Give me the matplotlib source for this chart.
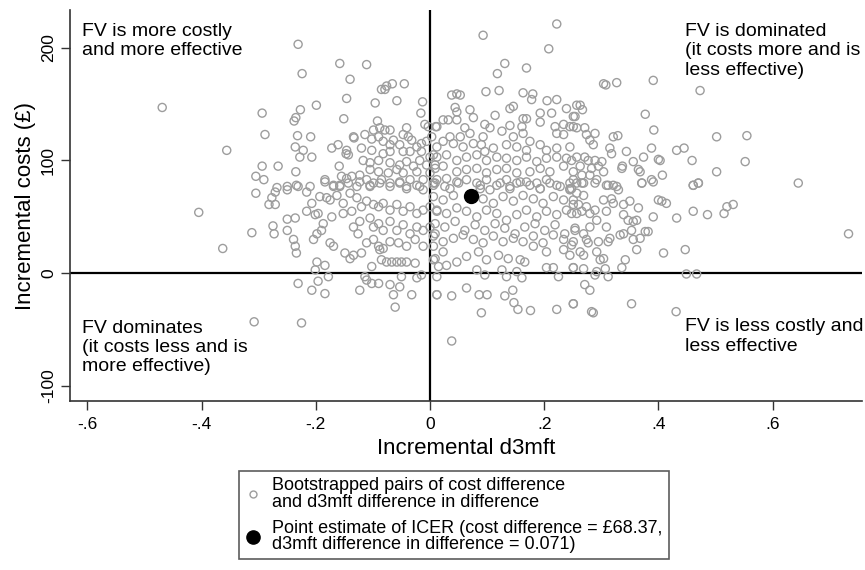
import matplotlib
matplotlib.use("Agg")
import matplotlib.pyplot as plt
from matplotlib.lines import Line2D
import numpy as np

plt.rcParams['font.family'] = ['Liberation Sans', 'DejaVu Sans']

# ---------------- data ----------------
# bootstrapped pairs (incremental d3mft, incremental cost in GBP)
boot_far_left = [
    (-0.469, 147), (-0.356, 109), (-0.405, 54), (-0.363, 22), (-0.294, 142), (-0.289, 123),
    (-0.294, 95), (-0.266, 95), (-0.305, 86), (-0.291, 83), (-0.305, 71), (-0.268, 76),
    (-0.271, 72), (-0.250, 77), (-0.250, 74), (-0.277, 67), (-0.282, 61), (-0.271, 61),
    (-0.250, 48), (-0.250, 38), (-0.275, 42), (-0.273, 35), (-0.312, 36), (-0.308, -43),
]
boot_left_upper = [
    (-0.231, 203), (-0.224, 177), (-0.158, 186), (-0.111, 185), (-0.140, 172), (-0.146, 155),
    (-0.199, 149), (-0.227, 145), (-0.151, 137), (-0.235, 138), (-0.238, 135), (-0.085, 163),
    (-0.076, 166), (-0.079, 163), (-0.066, 168), (-0.045, 168), (-0.058, 153), (-0.096, 151),
    (-0.013, 152), (-0.016, 142), (-0.092, 135), (-0.099, 127), (-0.088, 129), (-0.079, 127),
    (-0.070, 127), (-0.041, 129), (-0.047, 123), (-0.009, 132), (-0.003, 130), (0.010, 130),
    (-0.232, 122), (-0.209, 121), (-0.134, 121), (-0.133, 120), (-0.114, 123), (-0.102, 119),
    (-0.090, 121), (-0.082, 117), (-0.070, 114), (-0.064, 118), (-0.053, 114), (-0.038, 121),
    (-0.032, 118), (-0.023, 112), (-0.015, 115), (-0.006, 117), (0.003, 121), (-0.236, 112),
    (-0.222, 109), (-0.172, 111), (-0.161, 114), (-0.146, 109), (-0.143, 105), (-0.147, 106),
    (-0.120, 111), (-0.102, 109), (-0.082, 106), (-0.070, 108), (-0.047, 108), (-0.035, 108),
    (-0.015, 108), (0.006, 105), (-0.228, 103), (-0.207, 103), (-0.117, 100), (-0.105, 98),
    (-0.090, 100), (-0.070, 98), (-0.053, 96), (-0.041, 99), (-0.029, 95), (-0.018, 100),
    (-0.006, 96), (0.009, 96), (-0.159, 95), (-0.235, 90), (-0.105, 92), (-0.090, 90),
    (-0.073, 89), (-0.058, 92), (-0.047, 89), (-0.023, 90), (0.000, 89), (-0.184, 83),
    (-0.169, 78), (-0.155, 86), (-0.146, 84), (-0.137, 86), (-0.123, 87), (-0.111, 83),
    (-0.099, 80), (-0.085, 83), (-0.070, 80), (-0.053, 81), (-0.035, 83), (-0.012, 83),
    (0.006, 80), (-0.231, 77), (-0.210, 77), (-0.158, 77), (-0.128, 77), (-0.105, 77),
    (-0.041, 77), (-0.018, 77),
]
boot_left_lower = [
    (-0.234, 78), (-0.216, 72), (-0.184, 81), (-0.169, 77), (-0.158, 78), (-0.143, 80),
    (-0.123, 81), (-0.105, 78), (-0.088, 80), (-0.070, 77), (-0.053, 80), (-0.041, 75),
    (-0.023, 78), (-0.012, 74), (0.006, 78), (-0.236, 49), (-0.216, 55), (-0.207, 62),
    (-0.193, 68), (-0.181, 67), (-0.175, 65), (-0.163, 69), (-0.152, 62), (-0.140, 71),
    (-0.128, 67), (-0.120, 59), (-0.111, 64), (-0.099, 61), (-0.090, 59), (-0.082, 62),
    (-0.070, 56), (-0.058, 61), (-0.047, 55), (-0.035, 59), (-0.023, 53), (-0.012, 56),
    (0.000, 59), (0.012, 55), (-0.201, 52), (-0.196, 53), (-0.187, 44), (-0.190, 38),
    (-0.198, 35), (-0.204, 30), (-0.172, 50), (-0.152, 53), (-0.137, 55), (-0.134, 41),
    (-0.123, 46), (-0.126, 35), (-0.105, 49), (-0.099, 41), (-0.090, 44), (-0.082, 38),
    (-0.070, 46), (-0.058, 38), (-0.047, 43), (-0.035, 35), (-0.023, 41), (-0.012, 38),
    (0.000, 41), (0.009, 35), (-0.239, 30), (-0.236, 24), (-0.234, 18), (-0.175, 27),
    (-0.169, 24), (-0.149, 18), (-0.140, 13), (-0.134, 16), (-0.120, 18), (-0.111, 27),
    (-0.099, 30), (-0.090, 24), (-0.088, 21), (-0.082, 22), (-0.070, 28), (-0.055, 27),
    (-0.041, 24), (-0.026, 30), (-0.012, 24), (0.006, 24), (-0.198, 10), (-0.201, 3),
    (-0.184, 7), (-0.085, 12), (-0.076, 10), (-0.067, 10), (-0.058, 10), (-0.050, 10),
    (-0.041, 10), (-0.026, 9), (-0.102, 6), (0.006, 12), (-0.178, -3), (-0.196, -7),
    (-0.231, -9), (-0.207, -15), (-0.184, -18), (-0.123, -15), (-0.114, -3), (-0.111, -6),
    (-0.102, -9), (-0.090, -9), (-0.070, -10), (-0.053, -12), (-0.064, -19), (-0.061, -30),
    (-0.032, -19), (-0.050, -3), (-0.023, -4), (-0.015, -1.5), (0.012, -19), (0.012, -3),
    (-0.225, -44),
]
boot_mid_upper = [
    (0.222, 221), (0.093, 211), (0.208, 199), (0.131, 186), (0.169, 182), (0.118, 177),
    (0.098, 161), (0.121, 162), (0.163, 160), (0.180, 159), (0.038, 158), (0.047, 159),
    (0.053, 158), (0.205, 153), (0.222, 154), (0.178, 154), (0.239, 146), (0.257, 149),
    (0.044, 147), (0.047, 143), (0.070, 145), (0.140, 146), (0.146, 148), (0.163, 137),
    (0.169, 137), (0.193, 142), (0.213, 142), (0.251, 139), (0.023, 136), (0.012, 130),
    (0.032, 136), (0.047, 136), (0.076, 138), (0.096, 132), (0.105, 129), (0.140, 131),
    (0.161, 130), (0.193, 134), (0.219, 130), (0.234, 132), (0.245, 130), (0.257, 129),
    (0.114, 140), (0.035, 121), (0.053, 121), (0.061, 129), (0.070, 124), (0.093, 121),
    (0.126, 126), (0.146, 121), (0.163, 124), (0.175, 117), (0.222, 124), (0.234, 123),
    (0.012, 112), (0.023, 117), (0.041, 115), (0.058, 112), (0.076, 115), (0.090, 114),
    (0.096, 108), (0.111, 111), (0.134, 114), (0.152, 112), (0.169, 109), (0.193, 114),
    (0.204, 109), (0.222, 111), (0.245, 112), (0.000, 103), (0.012, 103), (0.029, 105),
    (0.047, 100), (0.064, 103), (0.082, 105), (0.099, 100), (0.117, 103), (0.134, 102),
    (0.152, 100), (0.169, 103), (0.187, 99), (0.204, 102), (0.222, 103), (0.239, 102),
    (0.257, 103), (0.009, 93), (0.023, 95), (0.047, 90), (0.064, 92), (0.082, 93),
    (0.099, 89), (0.117, 92), (0.134, 93), (0.152, 89), (0.175, 90), (0.193, 93),
    (0.210, 90), (0.234, 95), (0.251, 90), (0.012, 83), (0.029, 84), (0.050, 80),
    (0.064, 83), (0.082, 80), (0.099, 83), (0.117, 78), (0.134, 83), (0.152, 80),
    (0.169, 81), (0.187, 80), (0.204, 83), (0.222, 78), (0.245, 80), (0.035, 75),
    (0.088, 75), (0.140, 75), (0.193, 75), (0.245, 75),
]
boot_mid_lower = [
    (0.009, 80), (0.026, 77), (0.047, 81), (0.088, 78), (0.105, 74), (0.123, 80),
    (0.140, 77), (0.158, 81), (0.175, 78), (0.193, 75), (0.210, 80), (0.228, 77),
    (0.245, 74), (0.257, 80), (0.006, 68), (0.023, 65), (0.041, 69), (0.093, 66),
    (0.111, 62), (0.128, 68), (0.146, 64), (0.163, 69), (0.181, 66), (0.198, 62),
    (0.216, 68), (0.234, 65), (0.251, 61), (0.012, 56), (0.029, 53), (0.047, 58),
    (0.064, 55), (0.082, 50), (0.099, 56), (0.117, 53), (0.134, 47), (0.152, 52),
    (0.169, 56), (0.187, 50), (0.204, 55), (0.222, 52), (0.239, 56), (0.257, 53),
    (0.009, 44), (0.026, 41), (0.044, 46), (0.061, 38), (0.079, 43), (0.096, 38),
    (0.114, 44), (0.131, 40), (0.149, 35), (0.166, 41), (0.184, 44), (0.201, 38),
    (0.219, 43), (0.236, 35), (0.254, 40), (0.006, 33), (0.023, 28), (0.041, 31),
    (0.058, 34), (0.076, 30), (0.093, 27), (0.111, 33), (0.128, 28), (0.146, 31),
    (0.163, 28), (0.181, 33), (0.198, 27), (0.216, 34), (0.234, 30), (0.251, 28),
    (0.009, 13), (0.023, 19), (0.047, 10), (0.064, 15), (0.085, 19), (0.099, 12),
    (0.120, 16), (0.137, 13), (0.158, 12), (0.166, 10), (0.181, 24), (0.204, 19),
    (0.234, 21), (0.245, 16), (0.015, 6), (0.029, 7), (0.082, 3), (0.096, -1.5),
    (0.126, 3), (0.134, -3), (0.152, 1.5), (0.161, -4), (0.204, 5), (0.216, 5),
    (0.225, -3), (0.251, 5), (0.012, -19), (0.038, -20), (0.064, -13), (0.086, -19),
    (0.100, -19), (0.131, -20), (0.145, -15), (0.147, -26), (0.154, -32), (0.176, -33),
    (0.090, -35), (0.222, -32), (0.251, -27), (0.038, -60),
]
boot_right_upper = [
    (0.304, 168), (0.308, 167), (0.327, 169), (0.391, 171), (0.473, 162), (0.377, 141),
    (0.392, 127), (0.502, 121), (0.321, 121), (0.329, 122), (0.388, 111), (0.344, 108),
    (0.432, 109), (0.445, 111), (0.459, 100), (0.403, 100), (0.400, 101), (0.356, 99),
    (0.374, 103), (0.336, 93), (0.337, 95), (0.368, 90), (0.365, 92), (0.407, 87),
    (0.388, 83), (0.371, 80), (0.502, 90), (0.461, 78), (0.470, 80), (0.263, 149),
    (0.267, 145), (0.254, 139), (0.251, 130), (0.271, 129), (0.289, 124), (0.274, 123),
    (0.280, 118), (0.286, 114), (0.315, 111), (0.318, 106), (0.271, 103), (0.277, 100),
    (0.289, 100), (0.301, 99), (0.263, 95), (0.283, 93), (0.295, 95), (0.304, 90),
    (0.266, 87), (0.280, 87), (0.292, 83), (0.269, 80), (0.312, 78), (0.327, 77),
    (0.251, 83), (0.248, 100),
]
boot_right_lower = [
    (0.266, 80), (0.289, 80), (0.309, 78), (0.321, 78), (0.330, 74), (0.371, 80),
    (0.391, 81), (0.461, 78), (0.470, 80), (0.248, 75), (0.257, 71), (0.269, 69),
    (0.251, 65), (0.260, 61), (0.274, 59), (0.304, 65), (0.318, 66), (0.321, 62),
    (0.339, 61), (0.350, 64), (0.365, 58), (0.400, 65), (0.406, 64), (0.414, 62),
    (0.461, 55), (0.486, 52), (0.432, 49), (0.391, 50), (0.248, 53), (0.266, 55),
    (0.280, 53), (0.289, 56), (0.292, 47), (0.309, 55), (0.339, 52), (0.347, 47),
    (0.356, 46), (0.362, 47), (0.254, 38), (0.269, 35), (0.280, 41), (0.309, 41),
    (0.315, 31), (0.333, 34), (0.339, 35), (0.353, 38), (0.356, 30), (0.368, 31),
    (0.377, 37), (0.382, 37), (0.248, 25), (0.274, 30), (0.277, 27), (0.295, 28),
    (0.312, 28), (0.263, 19), (0.269, 16), (0.292, 19), (0.298, 12), (0.304, 13),
    (0.362, 21), (0.409, 18), (0.447, 21), (0.251, 5), (0.269, 4), (0.292, 1.5),
    (0.307, 4), (0.312, -3), (0.336, 5), (0.342, 12), (0.289, -1.5), (0.449, -0.6),
    (0.467, -0.6), (0.271, -10), (0.280, -15), (0.251, -27), (0.283, -34), (0.286, -35),
    (0.353, -27), (0.431, -34),
]
boot_far_right = [
    (0.555, 122), (0.552, 99), (0.645, 80), (0.515, 53), (0.520, 59), (0.531, 61),
    (0.733, 35),
]

icer_d3mft = 0.071
icer_cost = 68.37

x_ticks = [-0.6, -0.4, -0.2, 0, 0.2, 0.4, 0.6]
x_tick_labels = ["-.6", "-.4", "-.2", "0", ".2", ".4", ".6"]
y_ticks = [-100, 0, 100, 200]
y_tick_labels = ["-100", "0", "100", "200"]

quadrant_texts = [
    (-0.609, 222, "FV is more costly\nand more effective"),
    (0.447, 222, "FV is dominated\n(it costs more and is\nless effective)"),
    (-0.609, -41, "FV dominates\n(it costs less and is\nmore effective)"),
    (0.447, -40, "FV is less costly and\nless effective"),
]

legend_labels = [
    "Bootstrapped pairs of cost difference\nand d3mft difference in difference",
    "Point estimate of ICER (cost difference = \u00a368.37,\nd3mft difference in difference = 0.071)",
]

# ---------------- plot ----------------
all_pairs = (boot_far_left + boot_left_upper + boot_left_lower + boot_mid_upper +
             boot_mid_lower + boot_right_upper + boot_right_lower + boot_far_right)
bx = np.array([p[0] for p in all_pairs])
by = np.array([p[1] for p in all_pairs])

W, H = 865, 570
fig = plt.figure(figsize=(W / 100, H / 100), dpi=100)
ax = fig.add_axes([70 / W, 1 - 401 / H, (862 - 70) / W, (401 - 10) / H])

gray = "#9d9d9d"
ax.axhline(0, color="black", lw=1.6, zorder=1)
ax.axvline(0, color="black", lw=1.6, zorder=1)
ax.scatter(bx, by, s=34, facecolors="none", edgecolors=gray, linewidths=1.0, zorder=2)
ax.scatter([icer_d3mft], [icer_cost], s=100, color="black", zorder=3)

ax.set_xlim(-0.6305, 0.7566)
ax.set_ylim(-113.2, 233.4)

ax.set_xticks(x_ticks)
ax.set_xticklabels(x_tick_labels, fontsize=12.5)
ax.set_yticks(y_ticks)
ax.set_yticklabels(y_tick_labels, fontsize=12.5, rotation=90, va="center")
ax.tick_params(direction="out", length=6.5, width=1.0, color="#333333")
ax.tick_params(axis="x", pad=5)

for side in ("top", "right"):
    ax.spines[side].set_visible(False)
for side in ("left", "bottom"):
    ax.spines[side].set_color("#333333")
    ax.spines[side].set_linewidth(1.2)

ax.set_xlabel("Incremental d3mft", fontsize=16, labelpad=4)
ax.set_ylabel("Incremental costs (\u00a3)", fontsize=16, labelpad=4)

for tx, ty, s in quadrant_texts:
    ax.text(tx, ty, s, fontsize=14, va="top", ha="left", linespacing=1.18)

handles = [
    Line2D([], [], ls="none", marker="o", markersize=5, markerfacecolor="none",
           markeredgecolor=gray, markeredgewidth=1.0),
    Line2D([], [], ls="none", marker="o", markersize=9.5, color="black"),
]
leg = fig.legend(handles, legend_labels, loc="upper left",
                 bbox_to_anchor=(239 / W, 1 - 471 / H), fontsize=13,
                 frameon=True, fancybox=False, edgecolor="#333333",
                 borderpad=0.35, handlelength=0.9, handletextpad=0.6,
                 labelspacing=0.5, borderaxespad=0)
leg.get_frame().set_linewidth(1.2)
for t in leg.get_texts():
    t.set_linespacing(0.95)

fig.savefig("out.png", dpi=100)
